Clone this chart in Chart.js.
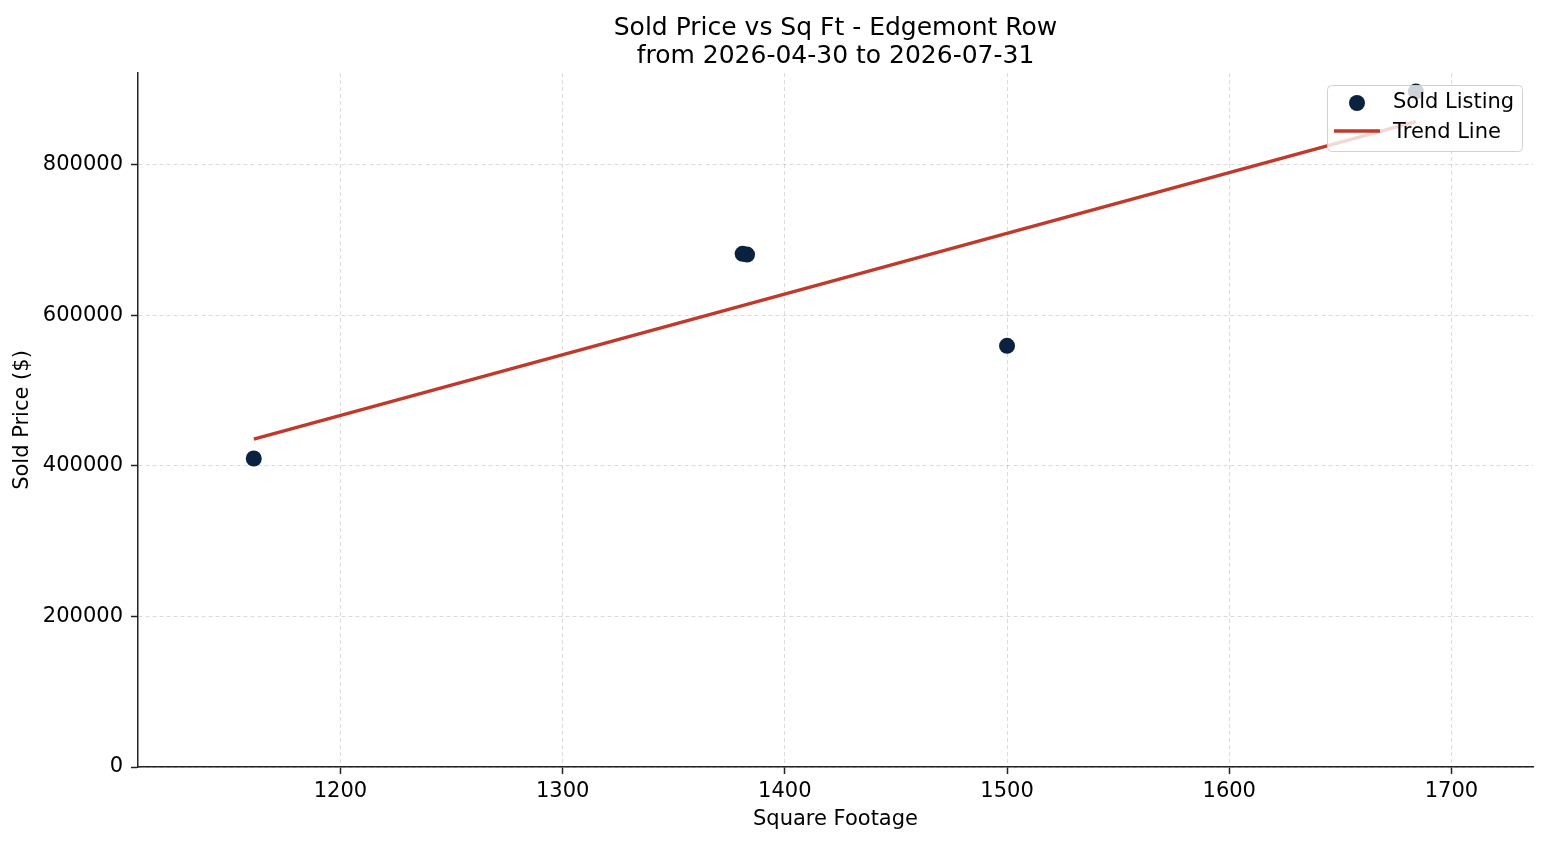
<!DOCTYPE html>
<html>
<head>
<meta charset="utf-8">
<script src="https://cdn.jsdelivr.net/npm/chart.js@4.4.1/dist/chart.umd.min.js"></script>
<style>
  body { margin: 0; background: #ffffff; }
  #wrap { width: 1547px; height: 845px; }
</style>
</head>
<body>
<div id="wrap"><canvas id="grafica" width="1547" height="845"></canvas></div>
<script>
// Datos
const sqft = [1161, 1381, 1383, 1500, 1684];
const soldPrice = [409700, 681500, 680500, 559300, 897000];
const trendSqft = [1161, 1684];
const trendPrice = [435500, 857200];
const xTicks = [1200, 1300, 1400, 1500, 1600, 1700];
const yTicks = [0, 200000, 400000, 600000, 800000];
const titleLines = ['Sold Price vs Sq Ft - Edgemont Row', 'from 2026-04-30 to 2026-07-31'];

const fuente = 'DejaVu Sans';
const azul = '#0a2240';
const rojo = '#c0392b';

// Leyenda estilo matplotlib dentro del area del grafico
const leyenda = {
    id: 'leyenda',
    afterDraw(chart) {
        const ctx = chart.ctx;
        const area = chart.chartArea;
        const w = 195, h = 66;
        const x = area.right - 11 - w;
        const y = area.top + 12;
        ctx.save();
        ctx.fillStyle = 'rgba(255,255,255,0.8)';
        ctx.strokeStyle = 'rgba(204,204,204,0.9)';
        ctx.lineWidth = 1;
        ctx.beginPath();
        ctx.roundRect(x + 0.5, y + 0.5, w, h, 4);
        ctx.fill();
        ctx.stroke();
        const ds = chart.data.datasets;
        // marcador
        ctx.fillStyle = azul;
        ctx.beginPath();
        ctx.arc(x + 30, y + 18, 8, 0, Math.PI * 2);
        ctx.fill();
        // linea
        ctx.strokeStyle = rojo;
        ctx.lineWidth = 3.5;
        ctx.beginPath();
        ctx.moveTo(x + 7, y + 46);
        ctx.lineTo(x + 53, y + 46);
        ctx.stroke();
        ctx.fillStyle = '#000000';
        ctx.font = '21px "' + fuente + '"';
        ctx.textBaseline = 'middle';
        ctx.textAlign = 'left';
        ctx.fillText(ds[0].label, x + 66, y + 18);
        ctx.fillText(ds[1].label, x + 66, y + 48);
        ctx.restore();
    }
};

const puntos = sqft.map((v, i) => ({ x: v, y: soldPrice[i] }));
const tendencia = trendSqft.map((v, i) => ({ x: v, y: trendPrice[i] }));

const ctx = document.getElementById('grafica');
const chart = new Chart(ctx, {
    type: 'scatter',
    data: {
        datasets: [{
            label: 'Sold Listing',
            data: puntos,
            backgroundColor: azul,
            borderColor: azul,
            borderWidth: 0,
            pointRadius: 8,
            pointHoverRadius: 8
        }, {
            type: 'line',
            label: 'Trend Line',
            data: tendencia,
            borderColor: rojo,
            borderWidth: 3.5,
            pointRadius: 0,
            tension: 0,
            fill: false
        }]
    },
    options: {
        responsive: false,
        animation: false,
        devicePixelRatio: 1,
        layout: {
            padding: { top: 0, right: 14, bottom: 0, left: 0 }
        },
        plugins: {
            legend: { display: false },
            tooltip: { enabled: false },
            title: {
                display: true,
                fullSize: false,
                text: titleLines,
                color: '#000000',
                font: { family: fuente, size: 25, weight: 'normal', lineHeight: 28 / 25 },
                padding: { top: 14, bottom: 3 }
            }
        },
        scales: {
            x: {
                type: 'linear',
                min: 1108.9,
                max: 1736.7,
                afterFit: s => { s.height = 78; },
                afterBuildTicks: s => { s.ticks = xTicks.map(v => ({ value: v })); },
                title: {
                    display: true,
                    text: 'Square Footage',
                    color: '#000000',
                    font: { family: fuente, size: 21 },
                    padding: { top: 0, bottom: 13 }
                },
                grid: {
                    color: 'rgba(0,0,0,0.14)',
                    lineWidth: 1,
                    tickColor: '#222222',
                    tickLength: 7,
                    tickWidth: 1.5
                },
                border: { display: true, color: '#222222', width: 1.5, dash: [4, 3] },
                ticks: {
                    color: '#000000',
                    font: { family: fuente, size: 21 },
                    padding: 5,
                    maxRotation: 0,
                    callback: v => String(v)
                }
            },
            y: {
                type: 'linear',
                min: 0,
                max: 921700,
                afterFit: s => { s.width = 138; },
                afterBuildTicks: s => { s.ticks = yTicks.map(v => ({ value: v })); },
                title: {
                    display: true,
                    text: 'Sold Price ($)',
                    color: '#000000',
                    font: { family: fuente, size: 21 },
                    padding: { top: 10, bottom: 0 }
                },
                grid: {
                    color: 'rgba(0,0,0,0.14)',
                    lineWidth: 1,
                    tickColor: '#222222',
                    tickLength: 7,
                    tickWidth: 1.5
                },
                border: { display: true, color: '#222222', width: 1.5, dash: [4, 3] },
                ticks: {
                    color: '#000000',
                    font: { family: fuente, size: 21 },
                    padding: 8,
                    callback: v => String(v)
                }
            }
        }
    },
    plugins: [leyenda]
});
</script>
</body>
</html>
